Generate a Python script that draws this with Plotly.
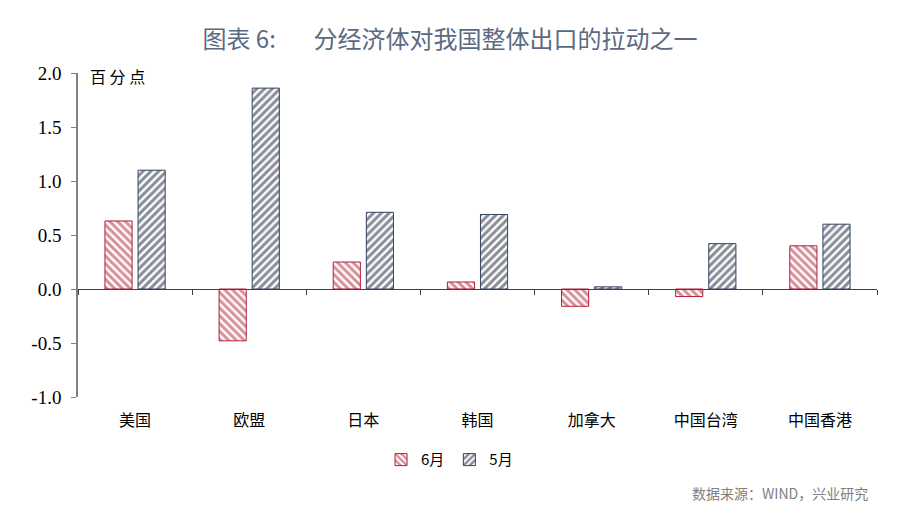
import plotly.graph_objects as go

categories = ["美国", "欧盟", "日本", "韩国", "加拿大", "中国台湾", "中国香港"]
june = [0.63, -0.48, 0.25, 0.065, -0.16, -0.07, 0.40]
may = [1.10, 1.86, 0.71, 0.69, 0.02, 0.42, 0.60]
y_ticks = [-1.0, -0.5, 0.0, 0.5, 1.0, 1.5, 2.0]
y_tick_text = ["-1.0", "-0.5", "0.0", "0.5", "1.0", "1.5", "2.0"]

RED = "#B02038"
NAVY = "#121B32"
NAVY_LINE = "#34445F"

fig = go.Figure()
fig.add_trace(go.Bar(
    x=categories, y=june, name="6月",
    marker=dict(color="white", line=dict(color=RED, width=1),
                pattern=dict(shape="\\", fgcolor=RED, bgcolor="white", size=5.5, solidity=0.55)),
))
fig.add_trace(go.Bar(
    x=categories, y=may, name="5月",
    marker=dict(color="white", line=dict(color=NAVY_LINE, width=1),
                pattern=dict(shape="/", fgcolor=NAVY, bgcolor="white", size=5.5, solidity=0.55)),
))
# invisible trace for the boundary-tick axis on the zero line
fig.add_trace(go.Scatter(x=categories, y=[None]*len(categories), xaxis="x2",
                         showlegend=False, hoverinfo="skip", mode="markers"))

zero_frac = (0 - y_ticks[0]) / (y_ticks[-1] - y_ticks[0])

fig.update_layout(
    width=892, height=509,
    margin=dict(l=70, r=23, t=65, b=120, autoexpand=False),
    plot_bgcolor="white", paper_bgcolor="white",
    barmode="group", bargap=0.42, bargroupgap=0.18,
    showlegend=True,
    legend=dict(orientation="h", x=0.465, xanchor="center", y=-0.194, yanchor="middle",
                font=dict(family="Noto Sans CJK SC", size=15, color="#000000"),
                itemwidth=30, traceorder="normal"),
    title=dict(text="图表 6:       分经济体对我国整体出口的拉动之一",
               x=0.4955, xanchor="center", y=0.937, yanchor="middle",
               font=dict(family="Noto Sans CJK SC", size=24, color="#5B6A82")),
    xaxis=dict(showline=False, ticks="", showgrid=False, zeroline=False,
               tickfont=dict(family="Noto Sans CJK SC", size=16, color="#000000"),
               ticklabelstandoff=12, range=[-0.5, 6.5]),
    xaxis2=dict(overlaying="x", matches="x", anchor="free", position=zero_frac, side="bottom",
                showline=True, linecolor="#404040", linewidth=1,
                ticks="outside", ticklen=5, tickcolor="#404040", tickson="boundaries",
                showticklabels=False, showgrid=False, zeroline=False),
    yaxis=dict(range=[y_ticks[0], y_ticks[-1]], tickvals=y_ticks, ticktext=y_tick_text,
               showline=True, linecolor="#808080", linewidth=1.5,
               ticks="outside", ticklen=5, tickcolor="#808080",
               showgrid=False, zeroline=False, ticklabelstandoff=6,
               tickfont=dict(family="Liberation Serif", size=19, color="#000000")),
)
fig.add_annotation(text="百 分 点", xref="paper", yref="paper", x=0.012, y=0.99,
                   xanchor="left", yanchor="middle", showarrow=False,
                   font=dict(family="Noto Sans CJK SC", size=16, color="#000000"))
fig.add_annotation(text="数据来源：WIND，兴业研究", xref="paper", yref="paper",
                   x=0.991, y=-0.296, xanchor="right", yanchor="middle", showarrow=False,
                   font=dict(family="Noto Sans CJK SC", size=14, color="#808080"))

fig.write_html("out.html")
